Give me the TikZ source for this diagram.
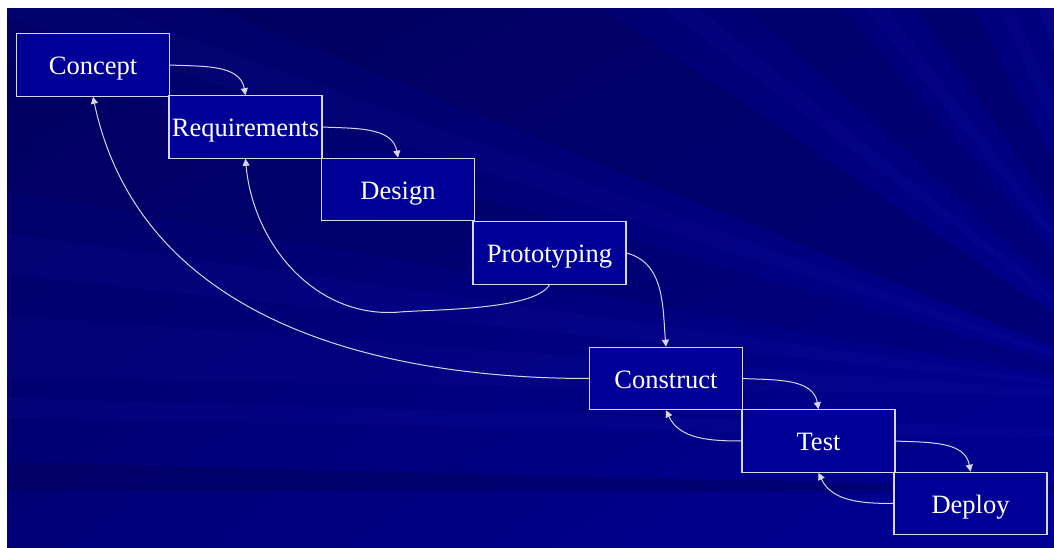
\documentclass[tikz,border=0pt]{standalone}
\usepackage{fontspec}
\setmainfont{Liberation Serif}
\usetikzlibrary{arrows.meta,shadings,calc}
\definecolor{bgA}{RGB}{0,0,100}
\definecolor{bgB}{RGB}{0,0,125}
\definecolor{bgC}{RGB}{0,0,120}
\definecolor{bgD}{RGB}{0,0,150}
\definecolor{raydark}{RGB}{0,0,75}
\definecolor{raylight}{RGB}{30,30,180}
\definecolor{boxfill}{RGB}{0,0,152}
\definecolor{edgecol}{RGB}{215,215,235}
\begin{document}
\begin{tikzpicture}[x=1pt,y=1pt,
  stage/.style={draw=edgecol, line width=1.1pt, fill=boxfill, minimum width=153pt,
    minimum height=62.5pt, inner sep=0pt, text height=20pt, text depth=0pt,
    text=white, font=\fontsize{26.5}{30}\selectfont},
  flow/.style={draw=edgecol, line width=1pt, -{Triangle[width=7pt,length=7pt]}}]
\useasboundingbox (0,0) rectangle (1054,548);
\begin{scope}
  \clip (7,0) rectangle (1054,539);
  \shade[upper left=bgA, upper right=bgB, lower left=bgC, lower right=bgD] (7,0) rectangle (1054,539);
  \coordinate (F) at (1180,150);
  \foreach \a/\b/\c/\o in {106/110/raylight/0.15, 113/115/raylight/0.12, 118/124/raydark/0.25,
      127/129/raylight/0.12, 131/138/raydark/0.22, 141/143/raylight/0.12, 146/158/raydark/0.3,
      160/162/raylight/0.1, 164/170/raydark/0.18, 172/174/raylight/0.12, 176/179/raylight/0.1}{
    \fill[\c, opacity=\o] (F) -- ($(F)+(\a:2000)$) -- ($(F)+(\b:2000)$) -- cycle;
  }
  \fill[raylight, opacity=0.12] (7,150) -- (1054,120) -- (1054,110) -- (7,130) -- cycle;
  \fill[raydark, opacity=0.35] (7,86) -- (600,71) -- (1054,62) -- (1054,55) -- (600,56) -- (7,58) -- cycle;
\end{scope}
\node[stage] (concept) at (93,483) {Concept};
\node[stage] (req) at (245.5,421) {Requirements};
\node[stage] (design) at (398,358.5) {Design};
\node[stage] (proto) at (549.5,295) {Prototyping};
\node[stage] (construct) at (666,169.5) {Construct};
\node[stage] (test) at (818.5,107) {Test};
\node[stage] (deploy) at (970.5,44.5) {Deploy};
\draw[flow] (concept.east) to[out=-3,in=100] (req.north);
\draw[flow] (req.east) to[out=-3,in=100] (design.north);
\draw[flow] (proto.east) to[out=-15,in=95] (construct.north);
\draw[flow] (construct.east) to[out=-3,in=100] (test.north);
\draw[flow] (test.east) to[out=-3,in=100] (deploy.north);
\draw[flow] (test.west) to[out=180,in=-65] (construct.south);
\draw[flow] (deploy.west) to[out=180,in=-65] (test.south);
\draw[flow] (construct.west) to[out=180,in=-78] (concept.south);
\coordinate (loop) at (400,236);
\draw[flow] (proto.south) to[out=-120,in=5,looseness=0.5] (loop) to[out=185,in=-85] (req.south);
\end{tikzpicture}
\end{document}
